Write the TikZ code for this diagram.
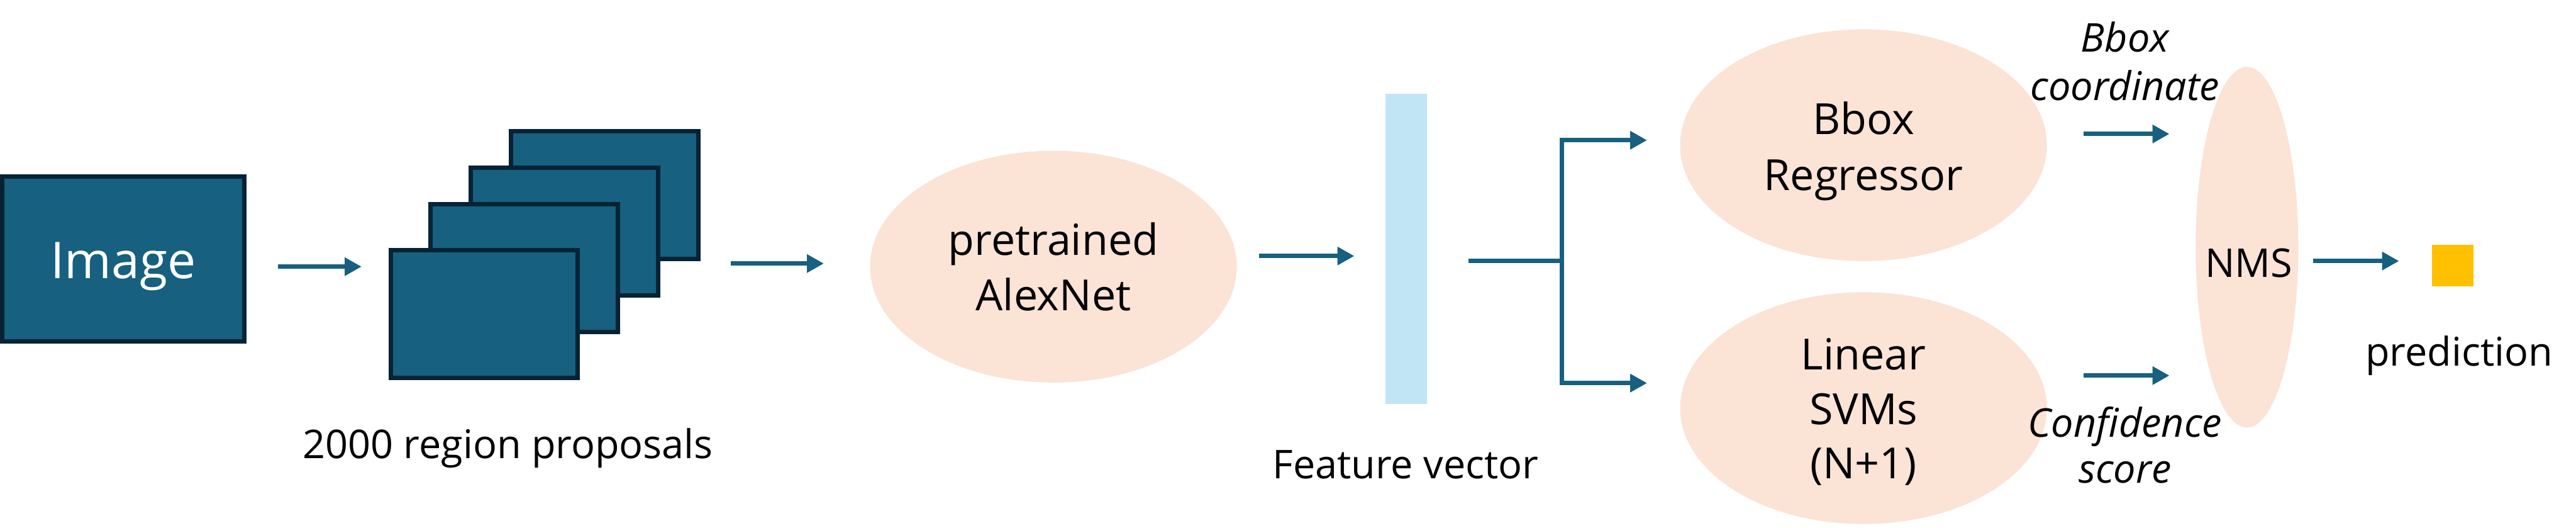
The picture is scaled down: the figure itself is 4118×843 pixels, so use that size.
\documentclass[tikz,border=0pt]{standalone}
\usepackage{fontspec}
\setmainfont{Open Sans}
\usetikzlibrary{arrows.meta,shapes.geometric}
\definecolor{boxblue}{HTML}{17607F}
\definecolor{boxedge}{HTML}{062335}
\definecolor{peach}{HTML}{FBE3D6}
\definecolor{featblue}{HTML}{C1E5F5}
\definecolor{gold}{HTML}{FFC000}
\begin{document}
\begin{tikzpicture}[x=0.01cm,y=-0.01cm,
  frame/.style={draw=boxedge, fill=boxblue, line width=0.07cm, inner sep=0pt,
                minimum width=2.99cm, minimum height=2.04cm},
  blob/.style={ellipse, fill=peach, inner sep=0pt, minimum width=5.86cm, minimum height=3.70cm},
  arr/.style={draw=boxblue, line width=0.07cm, -{Triangle[length=0.27cm,width=0.28cm]}},
  link/.style={draw=boxblue, line width=0.07cm, line cap=rect},
  lbl/.style={anchor=base, inner sep=0pt, font=\fontsize{18}{22}\selectfont},
  ilbl/.style={lbl, font=\fontsize{18}{22}\selectfont\itshape},
  big/.style={anchor=base, inner sep=0pt, font=\fontsize{19.5}{24}\selectfont},
]
\useasboundingbox (0,0) rectangle (4118,843);

% input image
\node[draw=boxedge, fill=boxblue, line width=0.07cm, inner sep=0pt,
      minimum width=3.87cm, minimum height=2.63cm] (img) at (197,414) {};
\node[anchor=base, inner sep=0pt, text=white, font=\fontsize{23}{28}\selectfont] (imgt) at (197,445) {Image};

% region proposals stack
\node[frame] (r4) at (966.5,312) {};
\node[frame] (r3) at (902.5,370) {};
\node[frame] (r2) at (838,428) {};
\node[frame] (r1) at (774,501.5) {};
\node[lbl] (rpt) at (812,732) {2000 region proposals};

% AlexNet
\node[blob] (alex) at (1684,426) {};
\node[big] (alex1) at (1684,408) {pretrained};
\node[big] (alex2) at (1684,496) {AlexNet};

% feature vector
\node[fill=featblue, inner sep=0pt, minimum width=0.66cm, minimum height=4.95cm] (fv) at (2248,397.5) {};
\node[lbl] (fvt) at (2247,765) {Feature vector};

% heads
\node[blob] (bbox) at (2979,232) {};
\node[big] (bbox1) at (2979,215) {Bbox};
\node[big] (bbox2) at (2979,304) {Regressor};
\node[blob] (svm) at (2979,652) {};
\node[big] (svm1) at (2979,591) {Linear};
\node[big] (svm2) at (2979,678) {SVMs};
\node[big] (svm3) at (2979,765) {(N+1)};

% outputs
\node[ilbl] (bc1) at (3397,83) {Bbox};
\node[ilbl] (bc2) at (3397,160) {coordinate};
\node[ilbl] (cs1) at (3397,698) {Confidence};
\node[ilbl] (cs2) at (3397,772) {score};

% NMS
\node[ellipse, fill=peach, inner sep=0pt, minimum width=1.64cm, minimum height=5.76cm] (nms) at (3592,395) {};
\node[lbl] (nmst) at (3595,443) {NMS};

% prediction
\node[fill=gold, inner sep=0pt, minimum width=0.66cm, minimum height=0.66cm] (pred) at (3921,424) {};
\node[lbl] (predt) at (3931,585) {prediction};

% connector end points
\coordinate (a1s) at (444,426);  \coordinate (a1e) at (578,426);
\coordinate (a2s) at (1168,421); \coordinate (a2e) at (1317,421);
\coordinate (a3s) at (2013,409); \coordinate (a3e) at (2165,409);
\coordinate (bs)  at (2351,417); \coordinate (bm)  at (2497,417);
\coordinate (bt)  at (2497,224); \coordinate (bb)  at (2497,612);
\coordinate (bte) at (2633,224); \coordinate (bbe) at (2633,612);
\coordinate (o1s) at (3331,214); \coordinate (o1e) at (3468,214);
\coordinate (o2s) at (3331,600); \coordinate (o2e) at (3468,600);
\coordinate (nos) at (3698,417); \coordinate (noe) at (3835,417);

\draw[arr] (a1s) -- (a1e);
\draw[arr] (a2s) -- (a2e);
\draw[arr] (a3s) -- (a3e);
\draw[link] (bs) -- (bm);
\draw[link] (bt) -- (bb);
\draw[arr] (bt) -- (bte);
\draw[arr] (bb) -- (bbe);
\draw[arr] (o1s) -- (o1e);
\draw[arr] (o2s) -- (o2e);
\draw[arr] (nos) -- (noe);
\end{tikzpicture}
\end{document}
